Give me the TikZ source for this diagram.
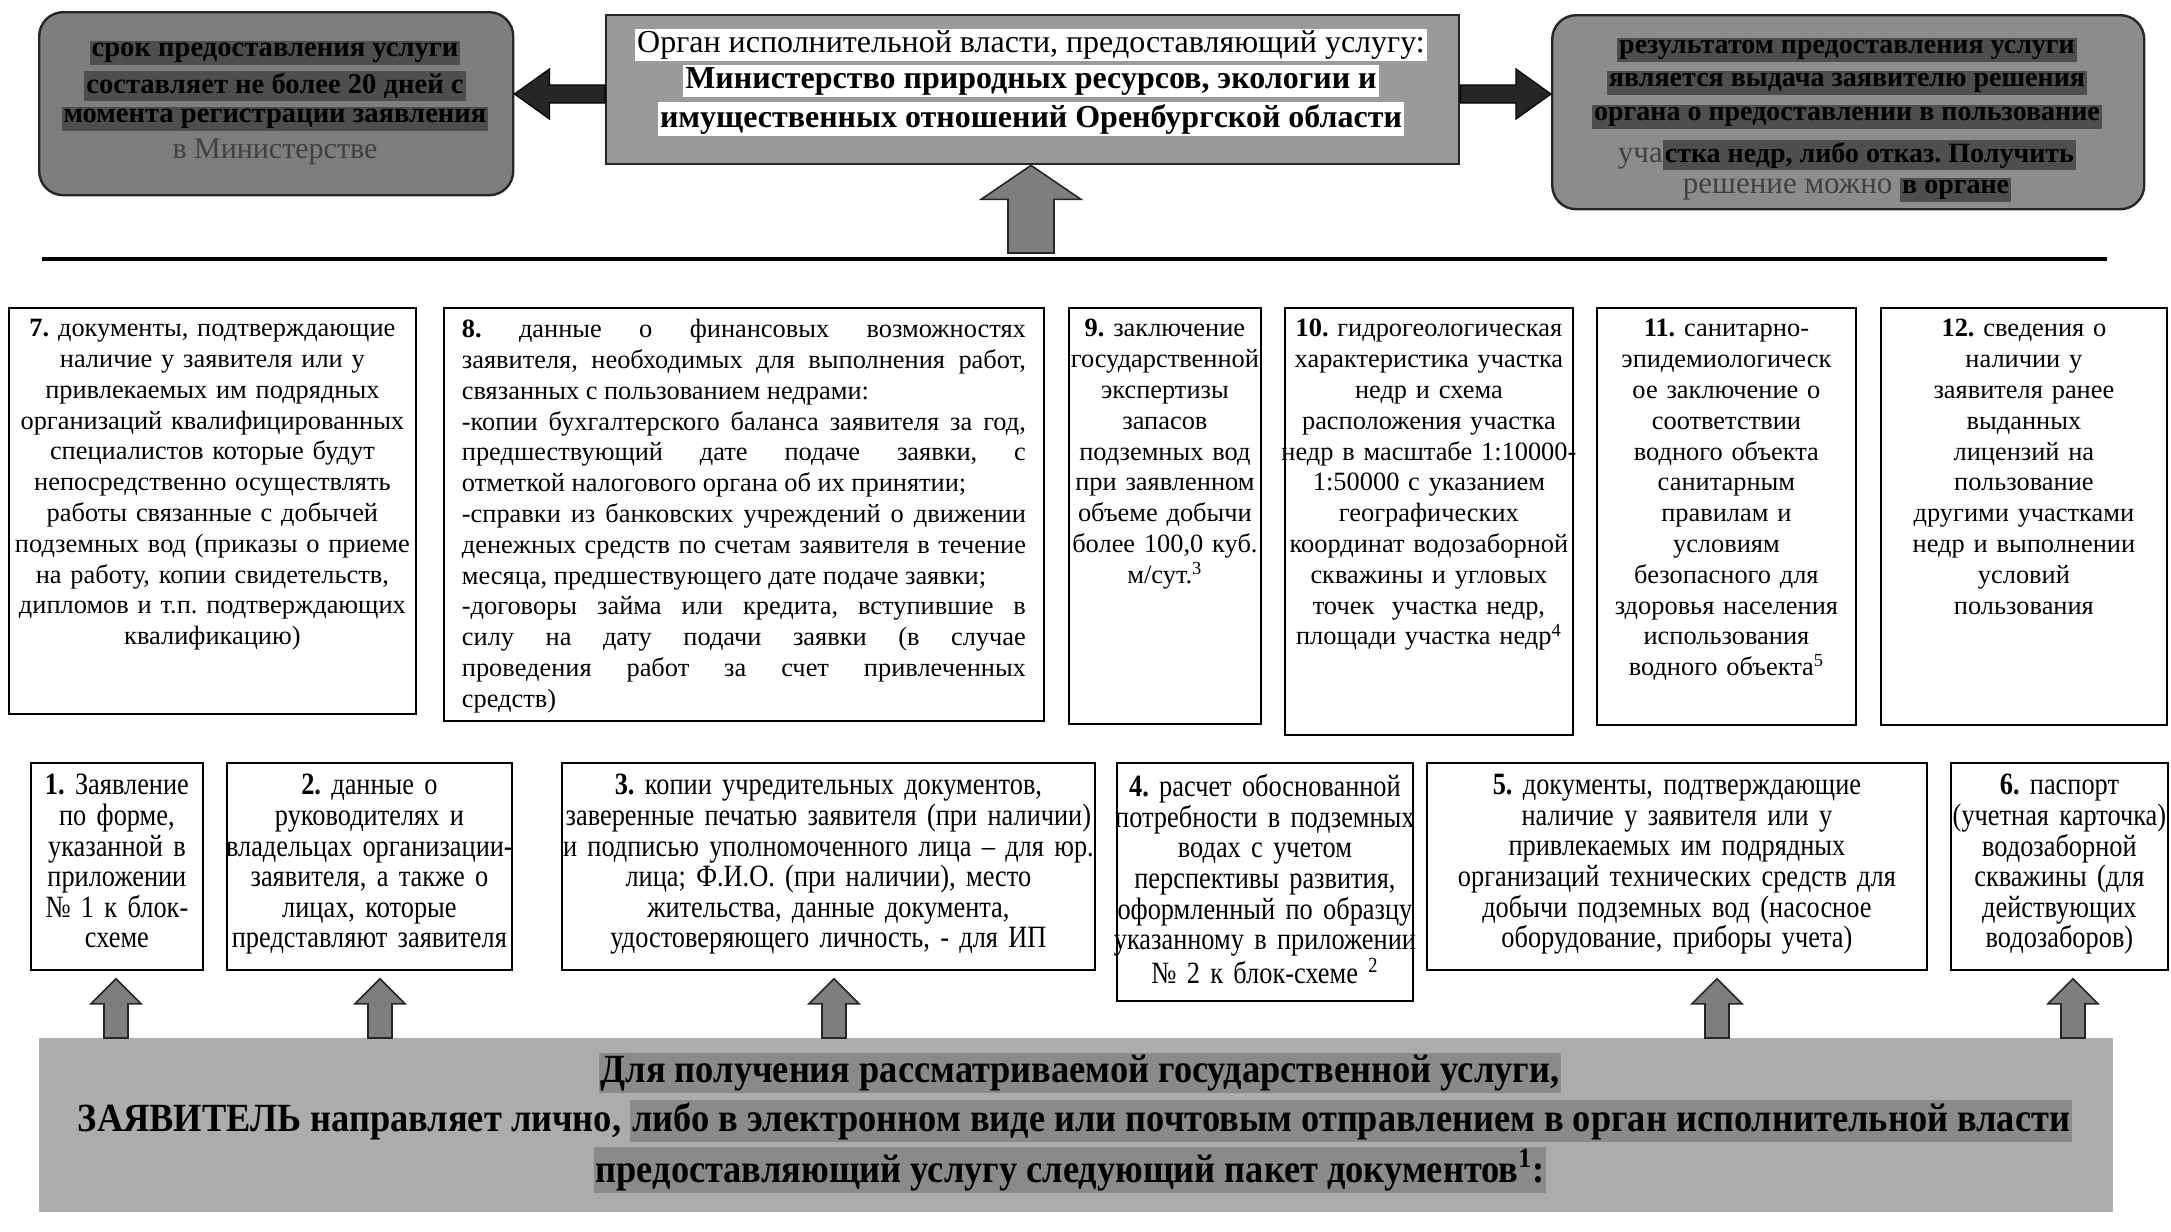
\documentclass[tikz,border=0pt]{standalone}
\usepackage{fontspec}
\setmainfont{Liberation Serif}
\newfontfamily\cond[FakeStretch=0.85]{Liberation Serif}
\newfontfamily\condband[FakeStretch=0.91]{Liberation Serif}
\usetikzlibrary{calc}
\frenchspacing
\definecolor{lboxc}{HTML}{7E7E7E}
\definecolor{cboxc}{HTML}{9A9A9A}
\definecolor{rboxc}{HTML}{8C8C8C}
\definecolor{bandc}{HTML}{ACACAC}
\definecolor{hldark}{HTML}{4E4E4E}
\definecolor{hlband}{HTML}{8A8A8A}
\definecolor{arrowc}{HTML}{7E7E7E}
\setlength{\fboxsep}{1pt}
\newcommand\hlD[1]{\colorbox{hldark}{#1}}
\newcommand\hlB[1]{\colorbox{hlband}{#1}}
\newcommand\hlW[1]{\colorbox{white}{#1}}
% block arrows: style, from, to, shaft half width, head half width, head length
\newcommand\blkup[6]{\draw[#1] let \p1=(#2), \p2=(#3) in
  (\x1-#4,\y1) -- (\x1-#4,\y2-#6) -- (\x1-#5,\y2-#6) -- (\x1,\y2) --
  (\x1+#5,\y2-#6) -- (\x1+#4,\y2-#6) -- (\x1+#4,\y1) -- cycle;}
\newcommand\blkleft[6]{\draw[#1] let \p1=(#2), \p2=(#3) in
  (\x1,\y1-#4) -- (\x2+#6,\y1-#4) -- (\x2+#6,\y1-#5) -- (\x2,\y1) --
  (\x2+#6,\y1+#5) -- (\x2+#6,\y1+#4) -- (\x1,\y1+#4) -- cycle;}
\newcommand\blkright[6]{\draw[#1] let \p1=(#2), \p2=(#3) in
  (\x1,\y1-#4) -- (\x2-#6,\y1-#4) -- (\x2-#6,\y1-#5) -- (\x2,\y1) --
  (\x2-#6,\y1+#5) -- (\x2-#6,\y1+#4) -- (\x1,\y1+#4) -- cycle;}
\begin{document}
\begin{tikzpicture}[x=0.5pt,y=-0.5pt,
  box/.style={draw=black, line width=0.9pt, fill=white, inner sep=0pt, anchor=north west},
  ttwo/.style={inner sep=0pt, anchor=north, align=center, font=\fontsize{13.2}{15.4}\selectfont},
  tthree/.style={inner sep=0pt, anchor=north, align=center, font=\cond\fontsize{15.5}{15.3}\selectfont},
  topbox/.style={draw=black!85, line width=1.2pt, inner sep=0pt, anchor=north west},
  ltxt/.style={inner sep=0pt, font=\bfseries\fontsize{14.3}{16}\selectfont},
  ctxt/.style={inner sep=0pt, font=\fontsize{16}{18}\selectfont},
  rtxt/.style={inner sep=0pt, font=\bfseries\fontsize{14}{16}\selectfont},
  bandtxt/.style={inner sep=0pt, font=\condband\bfseries\fontsize{20}{24}\selectfont},
  darrow/.style={fill=black!85, draw=black, line width=0.6pt},
  garrow/.style={fill=arrowc, draw=black!85, line width=0.8pt}
]
\fill[white] (0,0) rectangle (2171,1231);
\useasboundingbox (0,0) rectangle (2171,1231);

% ---------- top boxes ----------
\node[topbox, fill=lboxc, rounded corners=12pt, minimum width=237pt, minimum height=91.5pt] (lbox) at (38,11) {};
\node[topbox, fill=cboxc, minimum width=426.5pt, minimum height=74.5pt] (cbox) at (605,14) {};
\node[topbox, fill=rboxc, rounded corners=12pt, minimum width=296pt, minimum height=97pt] (rbox) at (1551,14) {};

\node[ltxt] (l1) at (275,53) {\hlD{срок предоставления услуги}};
\node[ltxt] (l2) at (275,86) {\hlD{составляет не более 20 дней с}};
\node[ltxt] (l3) at (275,119) {\hlD{момента регистрации заявления}};
\node[inner sep=0pt, font=\fontsize{15}{18}\selectfont, text=black!75] (l4) at (275,152) {в Министерстве};

\node[ctxt] (c1) at (1031,45) {\hlW{Орган исполнительной власти, предоставляющий услугу:}};
\node[ctxt, font=\bfseries\fontsize{16}{18}\selectfont] (c2) at (1031,81) {\hlW{Министерство природных ресурсов, экологии и}};
\node[ctxt, font=\bfseries\fontsize{16}{18}\selectfont] (c3) at (1031,119) {\hlW{имущественных отношений Оренбургской области}};

\node[rtxt] (r1) at (1847,50) {\hlD{результатом предоставления услуги}};
\node[rtxt] (r2) at (1847,83) {\hlD{является выдача заявителю решения}};
\node[rtxt] (r3) at (1847,117) {\hlD{органа о предоставлении в пользование}};
\node[rtxt] (r4) at (1847,155) {{\mdseries\fontsize{15.5}{16}\selectfont\color{black!75}уча}\hlD{стка недр, либо отказ. Получить}};
\node[rtxt] (r5) at (1847,190) {{\mdseries\fontsize{15.5}{16}\selectfont\color{black!75}решение можно }\hlD{в органе}};

% top arrows
\coordinate (ay) at (0,94);
\blkleft{darrow}{cbox.west |- ay}{lbox.east |- ay}{4.5pt}{12.5pt}{17.5pt}
\blkright{darrow}{cbox.east |- ay}{rbox.west |- ay}{4.5pt}{12.5pt}{17.5pt}
\coordinate (upfoot) at (1031,253);
\blkup{garrow}{upfoot}{cbox.south -| upfoot}{11.5pt}{25pt}{17pt}

% separator line
\coordinate (sepL) at (42,259);
\coordinate (sepR) at (2107,259);
\draw[line width=2pt] (sepL) -- (sepR);

% ---------- row 2 ----------
\node[box, minimum width=203.5pt, minimum height=203pt] (b7) at (8,307) {};
\node[box, minimum width=300pt, minimum height=206.5pt] (b8) at (443,307) {};
\node[box, minimum width=96pt, minimum height=208pt] (b9) at (1068,307) {};
\node[box, minimum width=144pt, minimum height=213.5pt] (b10) at (1284,307) {};
\node[box, minimum width=129.5pt, minimum height=208.5pt] (b11) at (1596,307) {};
\node[box, minimum width=143pt, minimum height=208.5pt] (b12) at (1880,307) {};

\node[ttwo, text width=210pt] (t7) at ([yshift=-6pt]b7.north) {\textbf{7.} документы, подтверждающие\\ наличие у заявителя или у\\ привлекаемых им подрядных\\ организаций квалифицированных\\ специалистов которые будут\\ непосредственно осуществлять\\ работы связанные с добычей\\ подземных вод (приказы о приеме\\ на работу, копии свидетельств,\\ дипломов и т.п. подтверждающих\\ квалификацию)};

\node[ttwo, text width=282pt, align=justify] (t8) at ([yshift=-6pt]b8.north) {\textbf{8.} данные о финансовых возможностях\linebreak заявителя, необходимых для выполнения работ,\linebreak связанных с пользованием недрами:\newline -копии бухгалтерского баланса заявителя за год,\linebreak предшествующий дате подаче заявки, с\linebreak отметкой налогового органа об их принятии;\newline -справки из банковских учреждений о движении\linebreak денежных средств по счетам заявителя в течение\linebreak месяца, предшествующего дате подаче заявки;\newline -договоры займа или кредита, вступившие в\linebreak силу на дату подачи заявки (в случае\linebreak проведения работ за счет привлеченных\linebreak средств)};

\node[ttwo, text width=110pt] (t9) at ([yshift=-6pt]b9.north) {\textbf{9.} заключение\\ государственной\\ экспертизы\\ запасов\\ подземных вод\\ при заявленном\\ объеме добычи\\ более 100,0 куб.\\ м/сут.\textsuperscript{3}};

\node[ttwo, text width=165pt] (t10) at ([yshift=-6pt]b10.north) {\textbf{10.} гидрогеологическая\\ характеристика участка\\ недр и схема\\ расположения участка\\ недр в масштабе 1:10000-\\ 1:50000 с указанием\\ географических\\ координат водозаборной\\ скважины и угловых\\ точек\ \ участка недр,\\ площади участка недр\textsuperscript{4}};

\node[ttwo, text width=145pt] (t11) at ([yshift=-6pt]b11.north) {\textbf{11.} санитарно-\\ эпидемиологическ\\ ое заключение о\\ соответствии\\ водного объекта\\ санитарным\\ правилам и\\ условиям\\ безопасного для\\ здоровья населения\\ использования\\ водного объекта\textsuperscript{5}};

\node[ttwo, text width=155pt] (t12) at ([yshift=-6pt]b12.north) {\textbf{12.} сведения о\\ наличии у\\ заявителя ранее\\ выданных\\ лицензий на\\ пользование\\ другими участками\\ недр и выполнении\\ условий\\ пользования};

% ---------- row 3 ----------
\node[box, minimum width=86pt, minimum height=103.5pt] (b1) at (30,762) {};
\node[box, minimum width=142.5pt, minimum height=103.5pt] (b2) at (226,762) {};
\node[box, minimum width=266.5pt, minimum height=103.5pt] (b3) at (561,762) {};
\node[box, minimum width=148pt, minimum height=119pt] (b4) at (1116,762) {};
\node[box, minimum width=250pt, minimum height=103.5pt] (b5) at (1426,762) {};
\node[box, minimum width=108.5pt, minimum height=103.5pt] (b6) at (1950,762) {};

\node[tthree, text width=100pt] (t1) at ([yshift=-6pt]b1.north) {\textbf{1.} Заявление\\ по форме,\\ указанной в\\ приложении\\ № 1 к блок-\\ схеме};
\node[tthree, text width=160pt] (t2) at ([yshift=-6pt]b2.north) {\textbf{2.} данные о\\ руководителях и\\ владельцах организации-\\ заявителя, а также о\\ лицах, которые\\ представляют заявителя};
\node[tthree, text width=280pt] (t3) at ([yshift=-6pt]b3.north) {\textbf{3.} копии учредительных документов,\\ заверенные печатью заявителя (при наличии)\\ и подписью уполномоченного лица – для юр.\\ лица; Ф.И.О. (при наличии), место\\ жительства, данные документа,\\ удостоверяющего личность, - для ИП};
\node[tthree, text width=175pt] (t4) at ([yshift=-6pt]b4.north) {\textbf{4.} расчет обоснованной\\ потребности в подземных\\ водах с учетом\\ перспективы развития,\\ оформленный по образцу\\ указанному в приложении\\ № 2 к блок-схеме \textsuperscript{2}};
\node[tthree, text width=260pt] (t5) at ([yshift=-6pt]b5.north) {\textbf{5.} документы, подтверждающие\\ наличие у заявителя или у\\ привлекаемых им подрядных\\ организаций технических средств для\\ добычи подземных вод (насосное\\ оборудование, приборы учета)};
\node[tthree, text width=120pt] (t6) at ([yshift=-6pt]b6.north) {\textbf{6.} паспорт\\ (учетная карточка)\\ водозаборной\\ скважины (для\\ действующих\\ водозаборов)};

% ---------- bottom band ----------
\node[draw=black!30, line width=0.5pt, fill=bandc, inner sep=0pt, anchor=north west, minimum width=1036.5pt, minimum height=86.5pt] (band) at (39,1038) {};
\node[bandtxt] (bt1) at (1080,1073) {\hlB{Для получения рассматриваемой государственной услуги,}};
\node[bandtxt] (bt2) at (1075,1121) {ЗАЯВИТЕЛЬ направляет лично, \hlB{либо в электронном виде или почтовым отправлением в орган исполнительной власти}};
\node[bandtxt] (bt3) at (1070,1170) {\hlB{предоставляющий услугу следующий пакет документов\textsuperscript{1}:}};

% bottom arrows
\coordinate (a1) at (116,0);
\coordinate (a2) at (380,0);
\coordinate (a3) at (834,0);
\coordinate (a5) at (1717,0);
\coordinate (a6) at (2073,0);
\blkup{garrow}{band.north -| a1}{[yshift=-4pt]b1.south -| a1}{6pt}{12.5pt}{12.5pt}
\blkup{garrow}{band.north -| a2}{[yshift=-4pt]b2.south -| a2}{6pt}{12.5pt}{12.5pt}
\blkup{garrow}{band.north -| a3}{[yshift=-4pt]b3.south -| a3}{6pt}{12.5pt}{12.5pt}
\blkup{garrow}{band.north -| a5}{[yshift=-4pt]b5.south -| a5}{6pt}{12.5pt}{12.5pt}
\blkup{garrow}{band.north -| a6}{[yshift=-4pt]b6.south -| a6}{6pt}{12.5pt}{12.5pt}
\end{tikzpicture}
\end{document}
